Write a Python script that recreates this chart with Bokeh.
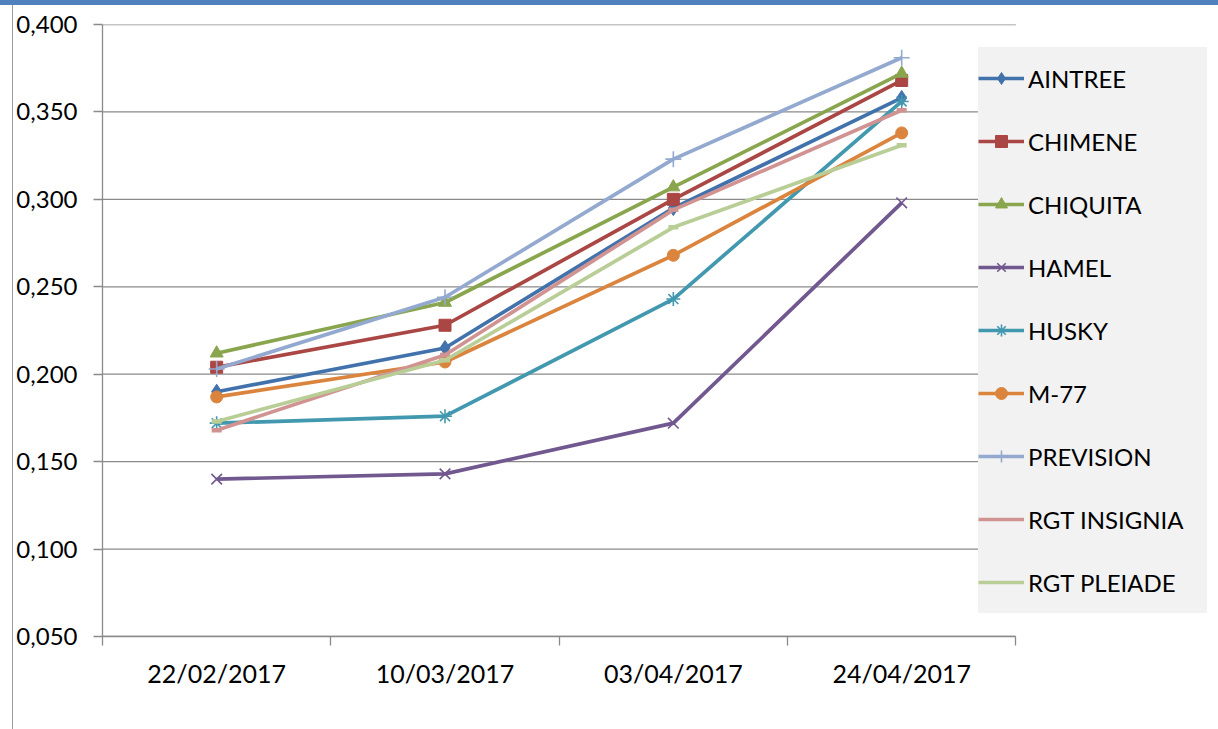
from bokeh.plotting import figure
from bokeh.layouts import column, row
from bokeh.models import (Range1d, FixedTicker, CustomJSTickFormatter, Legend, LegendItem, Div)
from bokeh.embed import file_html
from bokeh.resources import INLINE

# ---- data ----
dates = ["22/02/2017", "10/03/2017", "03/04/2017", "24/04/2017"]
aintree = [0.190, 0.215, 0.295, 0.358]
chimene = [0.204, 0.228, 0.300, 0.368]
chiquita = [0.212, 0.241, 0.307, 0.372]
hamel = [0.140, 0.143, 0.172, 0.298]
husky = [0.172, 0.176, 0.243, 0.356]
m77 = [0.187, 0.207, 0.268, 0.338]
prevision = [0.203, 0.244, 0.323, 0.381]
rgt_insignia = [0.168, 0.211, 0.294, 0.351]
rgt_pleiade = [0.173, 0.208, 0.284, 0.331]
y_ticks = [0.05, 0.1, 0.15, 0.2, 0.25, 0.3, 0.35, 0.4]

series = [
    ("AINTREE", aintree, "#4272AB", "diamond", 15, True),
    ("CHIMENE", chimene, "#AA4643", "square", 12, True),
    ("CHIQUITA", chiquita, "#89A54E", "triangle", 13, True),
    ("HAMEL", hamel, "#71588F", "x", 15, True),
    ("HUSKY", husky, "#4198AF", "asterisk", 14, True),
    ("M-77", m77, "#DB843D", "circle", 12, True),
    ("PREVISION", prevision, "#93A9CF", "cross", 16, True),
    ("RGT INSIGNIA", rgt_insignia, "#D19392", "dash", 10, False),
    ("RGT PLEIADE", rgt_pleiade, "#B9CD96", "dash", 10, False),
]

FONT = "Lato"
GRID = "#8a8a8a"

FIG_W, FIG_H = 1205, 724
LEFT, TOP = 87, 19          # frame offset inside the figure
CAT_W, FRAME_H = 915, 612   # width of the category area, frame height
RIGHT = 11                  # frame is extended to host the legend
frame_w = FIG_W - LEFT - RIGHT
n = len(dates)

p = figure(width=FIG_W, height=FIG_H, output_backend="svg", toolbar_location=None,
           x_range=Range1d(0, n * frame_w / CAT_W), y_range=Range1d(0.05, 0.4),
           min_border_left=LEFT, min_border_right=RIGHT, min_border_top=TOP,
           min_border_bottom=FIG_H - TOP - FRAME_H)
p.outline_line_color = None
p.xgrid.grid_line_color = None
p.ygrid.grid_line_color = None

# horizontal grid lines limited to the category area
p.segment(x0=[0] * len(y_ticks), x1=[n] * len(y_ticks), y0=y_ticks, y1=y_ticks,
          line_color=GRID, line_width=1.3)

xs = [i + 0.5 for i in range(n)]

items = []
for name, vals, color, marker, size, in_legend_marker in series:
    lr = p.line(xs, vals, line_color=color, line_width=3.7)
    is_line_marker = marker in ("x", "asterisk", "cross", "dash")
    sr = p.scatter(xs, vals, marker=marker, size=size,
                   fill_color=color, line_color=color,
                   line_width=(4.5 if marker == "dash" else (1.6 if is_line_marker else 1)))
    rends = [lr, sr] if in_legend_marker else [lr]
    items.append(LegendItem(label=name, renderers=rends))

# x axis: labels at category centres, tick marks between categories
p.xaxis.bounds = (0, n)
p.xaxis.ticker = FixedTicker(ticks=xs, minor_ticks=list(range(n + 1)))
p.xaxis.major_label_overrides = {x: d for x, d in zip(xs, dates)}
p.xaxis.major_tick_line_color = None
p.xaxis.major_tick_out = 0
p.xaxis.major_tick_in = 0
p.xaxis.minor_tick_out = 9
p.xaxis.minor_tick_in = 0
p.xaxis.minor_tick_line_color = GRID
p.xaxis.minor_tick_line_width = 1.3
p.xaxis.axis_line_color = GRID
p.xaxis.axis_line_width = 1.3
p.xaxis.major_label_standoff = 12
p.xaxis.major_label_text_font = FONT
p.xaxis.major_label_text_font_size = "25px"
p.xaxis.major_label_text_color = "black"

p.yaxis.ticker = FixedTicker(ticks=y_ticks, minor_ticks=[])
p.yaxis.formatter = CustomJSTickFormatter(code="return tick.toFixed(3).replace('.', ',');")
p.yaxis.major_tick_out = 9
p.yaxis.major_tick_in = 0
p.yaxis.major_tick_line_color = GRID
p.yaxis.major_tick_line_width = 1.3
p.yaxis.minor_tick_line_color = None
p.yaxis.axis_line_color = GRID
p.yaxis.axis_line_width = 1.3
p.yaxis.major_label_standoff = 16
p.yaxis.major_label_text_font = FONT
p.yaxis.major_label_text_font_size = "24px"
p.yaxis.major_label_text_color = "black"

legend = Legend(items=items, location=(876, 23),
                background_fill_color="#F2F2F2", background_fill_alpha=1.0,
                border_line_color=None, padding=0, spacing=1,
                glyph_width=46, glyph_height=30, label_height=62, label_standoff=4,
                label_width=181,
                label_text_font=FONT, label_text_font_size="24px",
                label_text_color="black", margin=0)
p.add_layout(legend, "center")

# page decorations of the screenshot: blue band on top and thin left rule
top_band = Div(text="", width=FIG_W + 13, height=5,
               styles={"background-color": "#4F81BD", "margin": "0", "padding": "0"})
left_rule = Div(text="", width=13, height=FIG_H,
                styles={"border-right": "1px solid #9a9a9a", "box-sizing": "border-box",
                        "margin": "0", "padding": "0"})
page = column(top_band, row(left_rule, p, spacing=0), spacing=0)

open("out.html", "w").write(file_html(page, INLINE))
